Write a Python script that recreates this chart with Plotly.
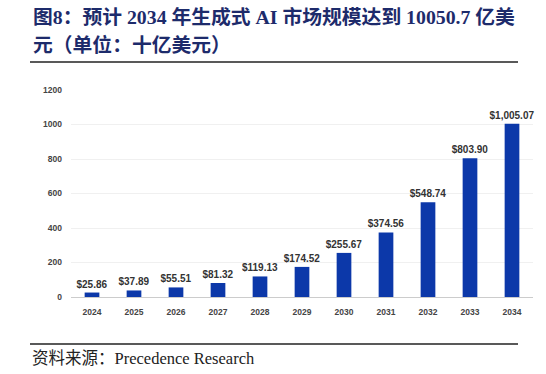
import plotly.graph_objects as go

years = ["2024", "2025", "2026", "2027", "2028", "2029", "2030", "2031", "2032", "2033", "2034"]
market_size = [25.86, 37.89, 55.51, 81.32, 119.13, 174.52, 255.67, 374.56, 548.74, 803.90, 1005.07]
y_ticks = [0, 200, 400, 600, 800, 1000, 1200]
title_line1 = "图8：预计 2034 年生成式 AI 市场规模达到 10050.7 亿美"
title_line2 = "元（单位：十亿美元）"
source_text = "资料来源：Precedence Research"

W, H = 546, 374
L, R, T, B = 71, 533, 90, 297  # plot area in pixels

def px_x(px):
    return (px - L) / (R - L)

def px_y(py):
    return (B - py) / (B - T)

labels = ["${:,.2f}".format(v) for v in market_size]

fig = go.Figure(go.Bar(
    x=years, y=market_size,
    marker=dict(color="#0C38A9", line=dict(width=0)),
    width=0.35,
    text=labels, textposition="outside", cliponaxis=False, constraintext="none",
    textfont=dict(family="Liberation Sans, Arial", size=10, color="#333333", weight="bold"),
))

serif = "Liberation Serif, Times New Roman, Noto Sans CJK SC"
title_color = "#1D2B6B"

fig.update_layout(
    width=W, height=H,
    margin=dict(l=L, r=W - R, t=T, b=H - B, pad=0),
    paper_bgcolor="white", plot_bgcolor="white",
    showlegend=False,
    xaxis=dict(
        type="category", showgrid=False, ticks="", showline=True, linecolor="#cccccc", linewidth=1,
        tickfont=dict(family="Liberation Sans, Arial", size=8.5, color="#444444", weight="bold"),
        ticklabelstandoff=7,
    ),
    yaxis=dict(
        range=[0, 1200], tickvals=y_ticks, showgrid=True, gridcolor="#f0f0f0", gridwidth=1,
        zeroline=False, ticks="", showline=False,
        tickfont=dict(family="Liberation Sans, Arial", size=8.5, color="#444444", weight="bold"),
        ticklabelstandoff=8,
    ),
    annotations=[
        dict(text="<b>" + title_line1 + "</b>", xref="paper", yref="paper",
             x=px_x(31), y=px_y(17), xanchor="left", yanchor="middle", showarrow=False,
             font=dict(family=serif, size=19.8, color=title_color)),
        dict(text="<b>" + title_line2 + "</b>", xref="paper", yref="paper",
             x=px_x(31), y=px_y(45), xanchor="left", yanchor="middle", showarrow=False,
             font=dict(family=serif, size=19.8, color=title_color)),
        dict(text=source_text, xref="paper", yref="paper",
             x=px_x(30), y=px_y(358), xanchor="left", yanchor="middle", showarrow=False,
             font=dict(family=serif, size=16.5, color="#222222")),
    ],
    shapes=[
        dict(type="line", xref="paper", yref="paper", x0=px_x(30), x1=px_x(518),
             y0=px_y(62), y1=px_y(62), line=dict(color="#222222", width=1.5)),
        dict(type="line", xref="paper", yref="paper", x0=px_x(30), x1=px_x(518),
             y0=px_y(344), y1=px_y(344), line=dict(color="#222222", width=1.5)),
    ],
)

fig.write_html("out.html", config={"displayModeBar": False},
               post_script="document.body.style.margin='0';document.body.style.overflow='hidden';")
